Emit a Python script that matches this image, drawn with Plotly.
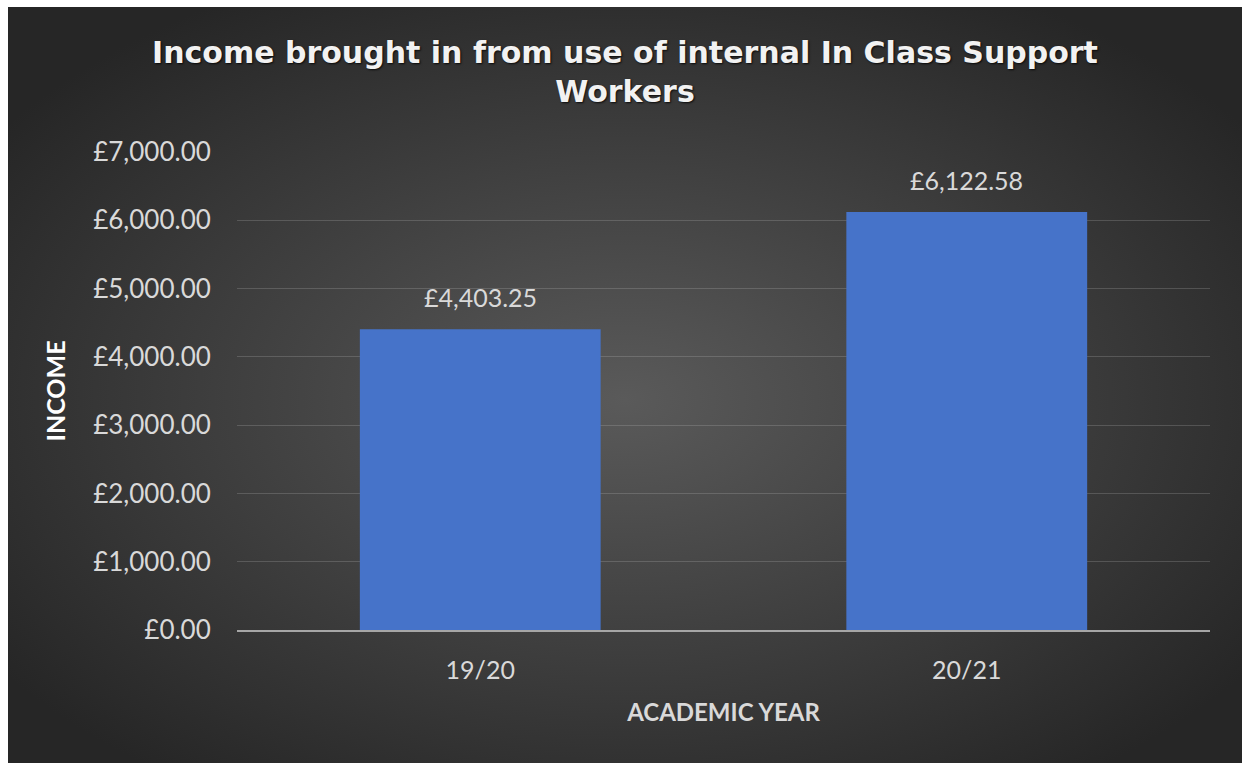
import base64
import plotly.graph_objects as go

# Chart data
years = ["19/20", "20/21"]
income = [4403.25, 6122.58]
y_ticks = [0, 1000, 2000, 3000, 4000, 5000, 6000, 7000]
y_tick_labels = [f"£{v:,.2f}" for v in y_ticks]

title_text = "Income brought in from use of internal In Class Support<br>Workers"

W, H = 1242, 763
ML, MR, MT, MB = 237, 32, 152, 133
PW, PH = W - ML - MR, H - MT - MB

# Dark radial-gradient backdrop (Excel dark chart style)
svg = """<svg xmlns='http://www.w3.org/2000/svg' width='1234' height='756' viewBox='0 0 1234 756' preserveAspectRatio='none'>
<defs><radialGradient id='g' cx='50%' cy='52%' r='62%' fx='50%' fy='52%'>
<stop offset='0%' stop-color='#5a5a5a'/>
<stop offset='100%' stop-color='#262626'/>
</radialGradient></defs>
<rect width='1234' height='756' fill='url(#g)'/></svg>"""
bg_uri = "data:image/svg+xml;base64," + base64.b64encode(svg.encode()).decode()

# backdrop starts 8px from left, 7px from top of the page
bx0, by0 = 8, 7
img_x = (bx0 - ML) / PW
img_y = (H - MB - by0) / PH
img_sx = (W - bx0) / PW
img_sy = (H - by0) / PH

fig = go.Figure()
fig.add_trace(go.Bar(
    x=years,
    y=income,
    width=0.495,
    marker=dict(color="#4673c9", line=dict(width=0)),
    hoverinfo="skip",
))

# value labels above bars
for yr, v in zip(years, income):
    fig.add_annotation(
        x=yr, y=v, text=f"£{v:,.2f}", showarrow=False,
        yanchor="bottom", yshift=15,
        font=dict(family="Lato", size=25, color="#d9d9d9"),
    )

# chart title
fig.add_annotation(
    text=title_text, xref="paper", yref="paper",
    x=(625 - ML) / PW, y=(H - MB - 33) / PH,
    xanchor="center", yanchor="top", showarrow=False, align="center",
    font=dict(family="DejaVu Sans", size=30, color="#f2f2f2", weight="bold",
              shadow="1px 1px 2px rgba(0,0,0,0.8)"),
)

fig.update_layout(
    width=W, height=H,
    margin=dict(l=ML, r=MR, t=MT, b=MB, autoexpand=False),
    paper_bgcolor="white",
    plot_bgcolor="rgba(0,0,0,0)",
    showlegend=False,
    images=[dict(
        source=bg_uri, xref="paper", yref="paper",
        x=img_x, y=img_y, sizex=img_sx, sizey=img_sy,
        xanchor="left", yanchor="top", sizing="stretch", layer="below",
    )],
    xaxis=dict(
        showgrid=False, zeroline=False,
        showline=True, linecolor="#a6a6a6", linewidth=2,
        ticks="outside", ticklen=17, tickcolor="rgba(0,0,0,0)",
        tickfont=dict(family="Lato", size=25, color="#d9d9d9"),
        title=dict(text="<b>ACADEMIC YEAR</b>", standoff=21,
                   font=dict(family="Lato", size=24, color="#d9d9d9")),
        fixedrange=True,
    ),
    yaxis=dict(
        range=[0, 7000],
        tickvals=y_ticks, ticktext=y_tick_labels,
        showgrid=True, gridcolor="rgba(200,200,200,0.22)", gridwidth=1,
        zeroline=False, showline=False,
        ticks="outside", ticklen=20, tickcolor="rgba(0,0,0,0)",
        tickfont=dict(family="Lato", size=26, color="#d9d9d9"),
        title=dict(text="<b>INCOME</b>", standoff=20,
                   font=dict(family="Lato", size=25, color="#ffffff")),
        fixedrange=True,
    ),
)

fig.write_html("out.html", config={"displayModeBar": False})
